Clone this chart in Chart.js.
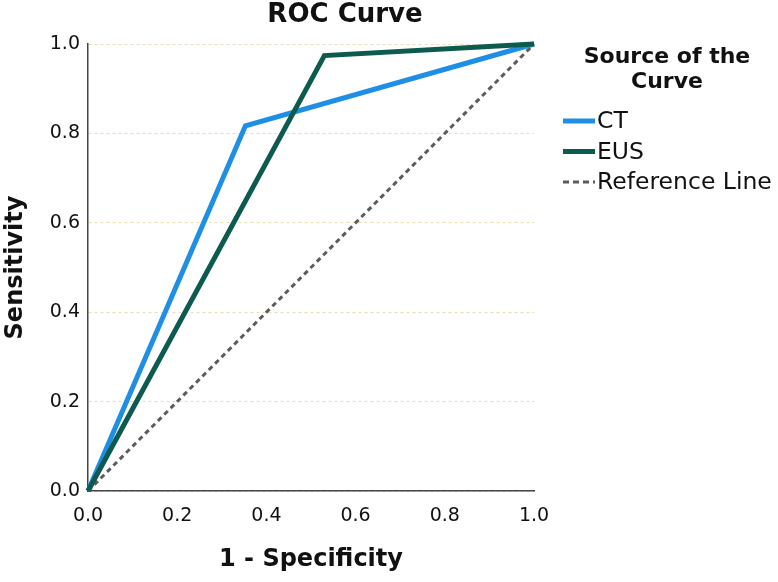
<!DOCTYPE html>
<html>
<head>
<meta charset="utf-8">
<script src="https://cdn.jsdelivr.net/npm/chart.js@4"></script>
<style>
  html, body { margin: 0; padding: 0; background: #fff; }
  #wrap { width: 778px; height: 582px; }
</style>
</head>
<body>
<div id="wrap"><canvas id="roc"></canvas></div>
<script>
const ctFpr = [0, 0.353, 1];
const ctTpr = [0, 0.817, 1];
const eusFpr = [0, 0.530, 1];
const eusTpr = [0, 0.974, 1];
const refFpr = [0, 1];
const refTpr = [0, 1];
const tickValues = [0, 0.2, 0.4, 0.6, 0.8, 1.0];
const seriesNames = ['CT', 'EUS', 'Reference Line'];

const toPoints = (xs, ys) => xs.map((x, i) => ({ x: x, y: ys[i] }));
const font = '"DejaVu Sans", sans-serif';

// title + legend drawn by hand so they sit where the SPSS output has them
const sidePieces = {
  id: 'sidePieces',
  afterDraw(chart) {
    const ctx = chart.ctx;
    ctx.save();
    ctx.fillStyle = '#111';
    ctx.textBaseline = 'middle';
    ctx.textAlign = 'center';
    ctx.font = 'bold 26px ' + font;
    ctx.fillText('ROC Curve', 345, 15);

    ctx.font = 'bold 22px ' + font;
    ctx.fillText('Source of the', 667, 57);
    ctx.fillText('Curve', 667, 82);

    ctx.textAlign = 'left';
    ctx.font = '23.5px ' + font;
    chart.data.datasets.forEach((ds, i) => {
      const y = 121 + i * 30.5;
      ctx.save();
      ctx.strokeStyle = ds.borderColor;
      ctx.lineWidth = ds.borderDash ? 3 : 5;
      ctx.setLineDash(ds.borderDash ? [6, 4] : []);
      ctx.beginPath();
      ctx.moveTo(563, y);
      ctx.lineTo(595, y);
      ctx.stroke();
      ctx.restore();
      ctx.fillText(ds.label, 597, y + 1);
    });
    ctx.restore();
  }
};

new Chart(document.getElementById('roc'), {
  type: 'line',
  data: {
    datasets: [
      { label: seriesNames[0], data: toPoints(ctFpr, ctTpr), borderColor: '#1f8fe5', borderWidth: 5, pointRadius: 0, tension: 0, order: 2, clip: false },
      { label: seriesNames[1], data: toPoints(eusFpr, eusTpr), borderColor: '#0d5b4f', borderWidth: 5, pointRadius: 0, tension: 0, order: 1, clip: false },
      { label: seriesNames[2], data: toPoints(refFpr, refTpr), borderColor: '#5c5c5c', borderWidth: 3, borderDash: [5, 4], pointRadius: 0, tension: 0, order: 3, clip: false }
    ]
  },
  options: {
    responsive: true,
    maintainAspectRatio: false,
    animation: false,
    layout: { padding: { left: 0, right: 244, top: 44, bottom: 0 } },
    plugins: {
      title: { display: false },
      legend: { display: false },
      tooltip: { enabled: false }
    },
    scales: {
      x: {
        type: 'linear', min: 0, max: 1,
        afterBuildTicks: axis => { axis.ticks = tickValues.map(v => ({ value: v })); },
        afterFit: axis => { axis.height = 91; },
        ticks: { color: '#111', font: { family: font, size: 19 }, callback: v => v.toFixed(1), padding: 6 },
        grid: { display: false },
        border: { color: '#444', width: 1.5 },
        title: { display: true, text: '1 - Specificity', color: '#111', font: { family: font, size: 24, weight: 'bold' }, padding: { top: 0, bottom: 8 } }
      },
      y: {
        type: 'linear', min: 0, max: 1,
        afterBuildTicks: axis => { axis.ticks = tickValues.map(v => ({ value: v })); },
        afterFit: axis => { axis.width = 88; },
        ticks: { color: '#111', font: { family: font, size: 19 }, callback: v => v.toFixed(1), padding: 8 },
        grid: { color: '#e6dfb4', lineWidth: 1, drawTicks: false },
        border: { color: '#444', width: 1.5, dash: [3, 3] },
        title: { display: true, text: 'Sensitivity', color: '#111', font: { family: font, size: 24, weight: 'bold' }, padding: { top: 1, bottom: 0 } }
      }
    }
  },
  plugins: [sidePieces]
});
</script>
</body>
</html>
